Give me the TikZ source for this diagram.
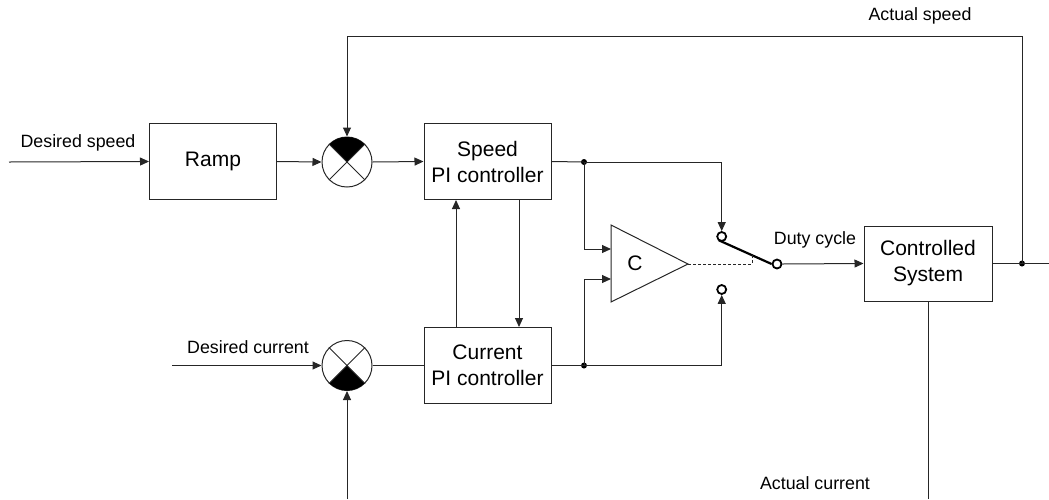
\documentclass[tikz,border=0pt]{standalone}
\usepackage{fontspec}
\setmainfont{Liberation Sans}
\usetikzlibrary{arrows.meta}
\tikzset{
  ln/.style={line width=1pt, draw=black!85},
  arr/.style={ln, -{Triangle[length=9pt,width=8pt]}},
  blk/.style={draw=black!85, line width=1pt, minimum width=127pt, minimum height=76pt, inner sep=0pt, align=center, font=\fontsize{21}{26}\selectfont},
  sumc/.style={draw=black!85, line width=1pt, circle, minimum size=50pt, inner sep=0pt},
  lbl/.style={font=\fontsize{17.8}{20}\selectfont, inner sep=0pt},
  dotn/.style={circle, fill=black, inner sep=0pt, minimum size=6pt},
  contact/.style={circle, draw=black, line width=1.8pt, fill=white, inner sep=0pt, minimum size=9pt}
}
\begin{document}
\begin{tikzpicture}[x=1pt,y=-1pt]
\useasboundingbox (0,0) rectangle (1049,499);
% blocks
\node[blk] (ramp) at (213,161.5) {Ramp};
\node[sumc] (s1) at (347,162) {};
\node[blk] (spd) at (487.5,161.5) {Speed\\PI controller};
\node[blk] (cur) at (487.5,365.5) {Current\\PI controller};
\node[sumc] (s2) at (347,365.5) {};
\node[blk, minimum width=128pt, minimum height=75pt] (ctrl) at (928,263.5) {Controlled\\System};
% sum sectors
\fill (s1.center) -- ++(45:25pt) arc[start angle=45,end angle=135,radius=25pt] -- cycle;
\draw[ln] (s1.45) -- (s1.225) (s1.135) -- (s1.315);
\fill (s2.center) -- ++(225:25pt) arc[start angle=225,end angle=315,radius=25pt] -- cycle;
\draw[ln] (s2.45) -- (s2.225) (s2.135) -- (s2.315);
% comparator triangle
\draw[ln] (611,225) -- (688,264) -- (611,302) -- cycle;
\node[font=\fontsize{21}{26}\selectfont] (C) at (635,263) {C};
\coordinate (tin1) at (611,249);
\coordinate (tin2) at (611,279);
\coordinate (apex) at (688,264);
% switch
\node[contact] (cu) at (721.7,236.5) {};
\node[contact] (cl) at (721.7,289.5) {};
\node[contact] (co) at (777,264) {};
\draw[line width=2.2pt] (cu.south west) ++(1,0) -- (co.west);
\draw[ln, dashed, dash pattern=on 3pt off 2pt] (apex) -- (752,264) -- (752,254);
% junction dots
\node[dotn] (d1) at (584,162) {};
\node[dotn] (d2) at (584,365.5) {};
\node[dotn] (d3) at (1022,263.5) {};
% inputs
\coordinate (inS) at (9,162);
\coordinate (inC) at (172,365.5);
\coordinate (fbC) at (347,499);
\coordinate (outR) at (1049,263.5);
\coordinate (acB) at (928,499);
\draw[arr] (inS) -- (ramp.west);
\node[lbl] (lds) at (78,143) {Desired speed};
\draw[arr] (ramp.east) -- (s1.west);
\draw[arr] (s1.east) -- (spd.west);
\draw[arr] (d3.center) -- (1022,36) -| (s1.north);
\node[lbl] (las) at (920,16) {Actual speed};
% speed PI out
\draw[ln] (spd.east) -- (d1.center);
\draw[arr] (d1.center) -| (cu.north);
\draw[arr] (d1.center) |- (tin1);
% current
\draw[arr] (inC) -- (s2.west);
\node[lbl] (ldc) at (248,347) {Desired current};
\draw[ln] (s2.east) -- (cur.west);
\draw[arr] (fbC) -- (s2.south);
\draw[ln] (cur.east) -- (d2.center);
\draw[arr] (d2.center) -| (cl.south);
\draw[arr] (d2.center) |- (tin2);
% between PI controllers
\draw[arr] (cur.north -| 456,0) -- (spd.south -| 456,0);
\draw[arr] (spd.south -| 519,0) -- (cur.north -| 519,0);
% output
\draw[arr] (co.east) -- (ctrl.west);
\node[lbl] (ldu) at (815,240) {Duty cycle};
\draw[ln] (ctrl.east) -- (outR);
\draw[ln] (ctrl.south) -- (acB);
\node[lbl] (lac) at (815,483) {Actual current};
\end{tikzpicture}
\end{document}
